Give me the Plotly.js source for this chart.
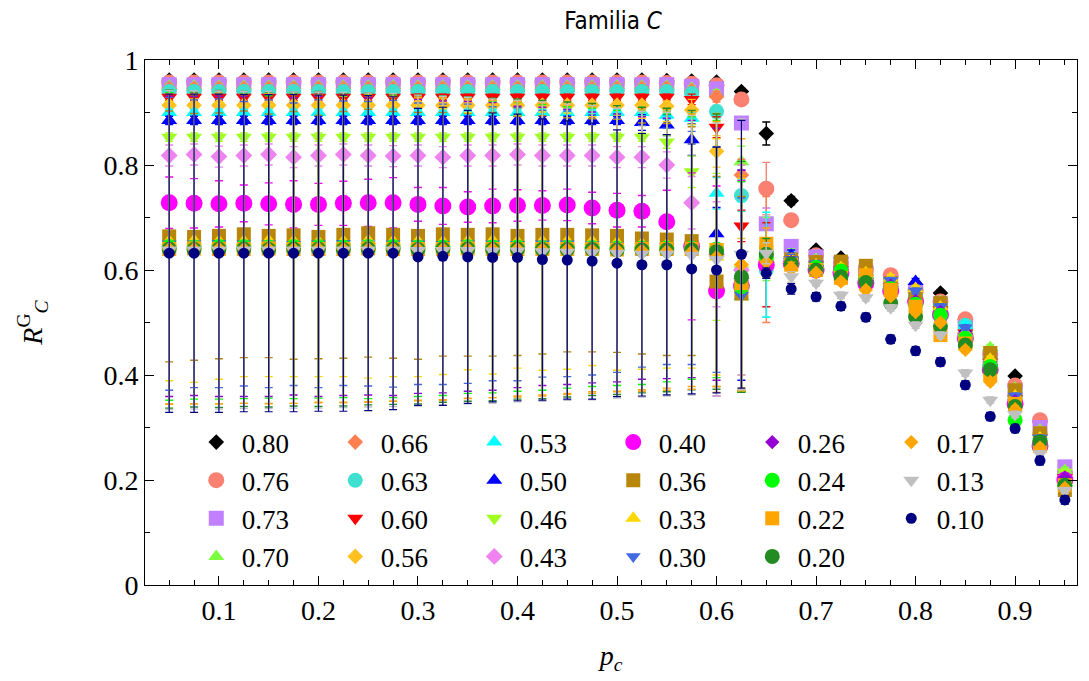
<!DOCTYPE html>
<html>
<head>
<meta charset="utf-8">
<script src="https://cdn.plot.ly/plotly-3.0.1.min.js"></script>
<style>html,body{margin:0;padding:0;background:#fff;}#chart{width:1089px;height:681px;}</style>
</head>
<body>
<div id="chart"></div>
<script>
// p_c values (x axis)
const pc = [0.05,0.075,0.1,0.125,0.15,0.175,0.2,0.225,0.25,0.275,0.3,0.325,0.35,0.375,0.4,0.425,0.45,0.475,0.5,0.525,0.55,0.575,0.6,0.625,0.65,0.675,0.7,0.725,0.75,0.775,0.8,0.825,0.85,0.875,0.9,0.925,0.95];

// series labels
const labels = ['0.80','0.76','0.73','0.70','0.66','0.63','0.60','0.56','0.53','0.50','0.46','0.43','0.40','0.36','0.33','0.30','0.26','0.24','0.22','0.20','0.17','0.13','0.10'];

// R_C^G values per series
const s080 = [0.962,0.962,0.962,0.962,0.962,0.962,0.962,0.962,0.962,0.962,0.962,0.962,0.962,0.962,0.962,0.962,0.962,0.962,0.962,0.962,0.961,0.960,0.958,0.940,0.860,0.732,0.638,0.623,0.604,0.586,0.572,0.556,0.500,0.447,0.398,0.310,0.215];
const s076 = [0.957,0.957,0.957,0.957,0.957,0.957,0.957,0.957,0.957,0.957,0.957,0.957,0.957,0.957,0.957,0.957,0.957,0.957,0.957,0.957,0.956,0.955,0.952,0.925,0.755,0.695,0.628,0.612,0.600,0.590,0.562,0.540,0.506,0.440,0.380,0.314,0.212];
const s073 = [0.953,0.953,0.953,0.953,0.953,0.953,0.953,0.953,0.953,0.953,0.953,0.953,0.953,0.953,0.953,0.953,0.953,0.953,0.953,0.953,0.953,0.950,0.945,0.880,0.688,0.645,0.625,0.612,0.596,0.575,0.558,0.535,0.490,0.432,0.370,0.300,0.225];
const s070 = [0.950,0.950,0.950,0.950,0.950,0.950,0.950,0.950,0.950,0.950,0.950,0.950,0.950,0.950,0.950,0.950,0.950,0.950,0.950,0.950,0.950,0.946,0.935,0.806,0.640,0.630,0.620,0.610,0.595,0.580,0.566,0.540,0.490,0.452,0.375,0.295,0.218];
const s066 = [0.946,0.946,0.946,0.946,0.946,0.946,0.946,0.946,0.946,0.946,0.946,0.946,0.946,0.946,0.946,0.946,0.946,0.946,0.946,0.946,0.946,0.942,0.930,0.781,0.620,0.625,0.615,0.604,0.590,0.574,0.560,0.530,0.490,0.430,0.365,0.290,0.205];
const s063 = [0.940,0.940,0.940,0.940,0.940,0.940,0.940,0.940,0.940,0.940,0.940,0.940,0.940,0.940,0.940,0.940,0.940,0.940,0.940,0.940,0.940,0.936,0.902,0.742,0.600,0.622,0.610,0.600,0.585,0.570,0.555,0.528,0.495,0.430,0.360,0.285,0.200];
const s060 = [0.929,0.929,0.929,0.929,0.929,0.929,0.929,0.929,0.929,0.929,0.929,0.929,0.929,0.929,0.929,0.929,0.929,0.929,0.929,0.929,0.929,0.925,0.872,0.684,0.610,0.620,0.610,0.600,0.585,0.568,0.550,0.525,0.480,0.425,0.355,0.280,0.205];
const s056 = [0.914,0.914,0.914,0.914,0.914,0.914,0.914,0.914,0.914,0.914,0.914,0.914,0.914,0.914,0.914,0.914,0.914,0.914,0.914,0.914,0.912,0.905,0.826,0.610,0.620,0.615,0.605,0.595,0.580,0.565,0.545,0.520,0.475,0.415,0.350,0.275,0.200];
const s053 = [0.900,0.900,0.900,0.900,0.900,0.900,0.900,0.900,0.900,0.900,0.900,0.900,0.900,0.900,0.900,0.900,0.900,0.900,0.900,0.900,0.895,0.889,0.746,0.550,0.610,0.625,0.610,0.600,0.585,0.566,0.555,0.520,0.495,0.420,0.355,0.285,0.205];
const s050 = [0.885,0.885,0.885,0.885,0.885,0.885,0.885,0.885,0.885,0.885,0.885,0.885,0.885,0.885,0.885,0.885,0.885,0.885,0.885,0.881,0.876,0.848,0.669,0.590,0.620,0.628,0.615,0.600,0.590,0.575,0.578,0.525,0.485,0.425,0.360,0.280,0.200];
const s046 = [0.853,0.853,0.853,0.853,0.853,0.853,0.853,0.853,0.853,0.853,0.853,0.853,0.853,0.853,0.853,0.853,0.853,0.853,0.853,0.853,0.844,0.787,0.644,0.600,0.615,0.620,0.605,0.595,0.580,0.565,0.550,0.520,0.475,0.448,0.350,0.270,0.215];
const s043 = [0.818,0.820,0.816,0.818,0.820,0.815,0.818,0.820,0.818,0.817,0.818,0.815,0.818,0.818,0.820,0.818,0.818,0.818,0.815,0.815,0.800,0.728,0.630,0.600,0.615,0.615,0.600,0.590,0.575,0.560,0.540,0.515,0.468,0.410,0.345,0.270,0.195];
const s040 = [0.728,0.727,0.726,0.727,0.726,0.725,0.725,0.727,0.728,0.728,0.725,0.722,0.720,0.722,0.723,0.723,0.724,0.718,0.714,0.712,0.692,0.645,0.560,0.570,0.610,0.612,0.600,0.595,0.575,0.560,0.540,0.515,0.470,0.410,0.345,0.265,0.200];
const s036 = [0.664,0.663,0.665,0.668,0.665,0.666,0.663,0.667,0.670,0.667,0.665,0.668,0.667,0.668,0.665,0.667,0.667,0.666,0.665,0.660,0.658,0.655,0.578,0.555,0.635,0.620,0.615,0.616,0.608,0.575,0.552,0.537,0.465,0.442,0.371,0.289,0.181];
const s033 = [0.655,0.656,0.655,0.655,0.656,0.655,0.654,0.655,0.656,0.655,0.655,0.654,0.655,0.656,0.654,0.655,0.655,0.655,0.652,0.650,0.648,0.645,0.625,0.575,0.625,0.620,0.610,0.605,0.595,0.585,0.565,0.530,0.480,0.430,0.360,0.280,0.200];
const s030 = [0.650,0.650,0.651,0.650,0.650,0.649,0.650,0.651,0.650,0.650,0.650,0.649,0.650,0.650,0.649,0.650,0.650,0.648,0.647,0.645,0.645,0.642,0.620,0.552,0.630,0.620,0.612,0.600,0.590,0.580,0.560,0.530,0.490,0.420,0.360,0.280,0.200];
const s026 = [0.645,0.646,0.645,0.645,0.646,0.645,0.645,0.646,0.645,0.645,0.645,0.644,0.645,0.645,0.644,0.645,0.644,0.643,0.642,0.642,0.641,0.640,0.630,0.580,0.628,0.615,0.605,0.595,0.585,0.570,0.541,0.520,0.460,0.415,0.350,0.275,0.205];
const s024 = [0.645,0.644,0.645,0.645,0.644,0.645,0.645,0.644,0.645,0.645,0.644,0.644,0.645,0.644,0.644,0.643,0.643,0.643,0.642,0.642,0.642,0.642,0.640,0.568,0.625,0.610,0.605,0.598,0.585,0.565,0.535,0.514,0.470,0.416,0.314,0.265,0.190];
const s022 = [0.640,0.641,0.640,0.640,0.641,0.640,0.640,0.640,0.641,0.640,0.640,0.640,0.641,0.640,0.640,0.640,0.640,0.640,0.639,0.640,0.640,0.640,0.638,0.575,0.650,0.610,0.600,0.585,0.590,0.562,0.530,0.476,0.460,0.400,0.345,0.265,0.190];
const s020 = [0.640,0.639,0.640,0.640,0.639,0.640,0.640,0.639,0.640,0.640,0.639,0.640,0.640,0.639,0.640,0.639,0.639,0.639,0.638,0.638,0.638,0.638,0.635,0.587,0.630,0.612,0.600,0.587,0.576,0.537,0.511,0.493,0.457,0.410,0.340,0.273,0.190];
const s017 = [0.640,0.640,0.641,0.640,0.640,0.640,0.641,0.640,0.640,0.640,0.640,0.640,0.640,0.640,0.640,0.639,0.639,0.638,0.638,0.637,0.636,0.635,0.625,0.610,0.615,0.605,0.595,0.578,0.562,0.550,0.520,0.500,0.448,0.387,0.335,0.262,0.185];
const s013 = [0.638,0.638,0.638,0.638,0.638,0.638,0.638,0.638,0.638,0.638,0.637,0.637,0.637,0.636,0.636,0.635,0.634,0.633,0.632,0.630,0.630,0.628,0.620,0.630,0.632,0.587,0.575,0.552,0.547,0.528,0.495,0.476,0.404,0.352,0.325,0.250,0.180];
const s010 = [0.632,0.632,0.632,0.632,0.632,0.632,0.632,0.632,0.632,0.632,0.625,0.626,0.625,0.624,0.624,0.620,0.619,0.617,0.613,0.610,0.610,0.602,0.600,0.630,0.594,0.564,0.549,0.531,0.510,0.468,0.446,0.425,0.381,0.321,0.298,0.237,0.162];

// error bars per series
const e080 = [0.004,0.004,0.004,0.004,0.004,0.004,0.004,0.004,0.004,0.004,0.004,0.004,0.004,0.004,0.004,0.004,0.004,0.004,0.004,0.004,0.004,0.004,0.005,0.006,0.022,0.008,0.005,0.005,0.005,0.005,0.005,0.005,0.005,0.005,0.005,0.005,0.005];
const e076 = [0.005,0.005,0.005,0.005,0.005,0.005,0.005,0.005,0.005,0.005,0.005,0.005,0.005,0.005,0.005,0.005,0.005,0.005,0.005,0.005,0.005,0.005,0.006,0.010,0.050,0.010,0.006,0.006,0.006,0.006,0.006,0.006,0.006,0.006,0.006,0.006,0.006];
const e073 = [0.005,0.005,0.005,0.005,0.005,0.005,0.005,0.005,0.005,0.005,0.005,0.005,0.005,0.005,0.005,0.005,0.005,0.005,0.005,0.005,0.005,0.005,0.006,0.012,0.030,0.010,0.006,0.006,0.006,0.006,0.006,0.006,0.006,0.006,0.006,0.006,0.006];
const e070 = [0.005,0.005,0.005,0.005,0.005,0.005,0.005,0.005,0.005,0.005,0.005,0.005,0.005,0.005,0.005,0.005,0.005,0.005,0.005,0.005,0.005,0.005,0.008,0.030,0.060,0.010,0.006,0.006,0.006,0.006,0.006,0.006,0.006,0.006,0.006,0.006,0.006];
const e066 = [0.005,0.005,0.005,0.005,0.005,0.005,0.005,0.005,0.005,0.005,0.005,0.005,0.005,0.005,0.005,0.005,0.005,0.005,0.005,0.005,0.005,0.005,0.010,0.030,0.120,0.010,0.006,0.006,0.006,0.006,0.006,0.006,0.006,0.006,0.006,0.006,0.006];
const e063 = [0.006,0.006,0.006,0.006,0.006,0.006,0.006,0.006,0.006,0.006,0.006,0.006,0.006,0.006,0.006,0.006,0.006,0.006,0.006,0.006,0.006,0.006,0.012,0.030,0.090,0.010,0.006,0.006,0.006,0.006,0.006,0.006,0.006,0.006,0.006,0.006,0.006];
const e060 = [0.006,0.006,0.006,0.006,0.006,0.006,0.006,0.006,0.006,0.006,0.006,0.006,0.006,0.006,0.006,0.006,0.006,0.006,0.006,0.006,0.006,0.010,0.020,0.030,0.080,0.010,0.006,0.006,0.006,0.006,0.006,0.006,0.006,0.006,0.006,0.006,0.006];
const e056 = [0.006,0.006,0.006,0.006,0.006,0.006,0.006,0.006,0.006,0.006,0.006,0.006,0.006,0.006,0.006,0.006,0.006,0.006,0.006,0.006,0.010,0.020,0.030,0.050,0.030,0.010,0.006,0.006,0.006,0.006,0.006,0.006,0.006,0.006,0.006,0.006,0.006];
const e053 = [0.006,0.006,0.006,0.006,0.006,0.006,0.006,0.006,0.006,0.006,0.006,0.006,0.006,0.006,0.006,0.006,0.006,0.006,0.006,0.006,0.008,0.012,0.030,0.180,0.100,0.010,0.006,0.006,0.006,0.006,0.006,0.006,0.006,0.006,0.006,0.006,0.006];
const e050 = [0.008,0.008,0.008,0.008,0.008,0.008,0.008,0.008,0.008,0.008,0.008,0.008,0.008,0.008,0.008,0.008,0.008,0.008,0.008,0.015,0.020,0.030,0.050,0.200,0.030,0.010,0.006,0.006,0.006,0.006,0.006,0.006,0.006,0.006,0.006,0.006,0.006];
const e046 = [0.008,0.008,0.008,0.008,0.008,0.008,0.008,0.008,0.008,0.008,0.008,0.008,0.008,0.008,0.008,0.008,0.008,0.008,0.008,0.008,0.012,0.030,0.140,0.200,0.030,0.010,0.006,0.006,0.006,0.006,0.006,0.006,0.006,0.006,0.006,0.006,0.006];
const e043 = [0.020,0.020,0.020,0.020,0.020,0.020,0.020,0.020,0.020,0.020,0.020,0.020,0.020,0.020,0.020,0.020,0.020,0.020,0.020,0.020,0.025,0.050,0.100,0.200,0.020,0.010,0.006,0.006,0.006,0.006,0.006,0.006,0.006,0.006,0.006,0.006,0.006];
const e040 = [0.049,0.047,0.044,0.035,0.040,0.045,0.040,0.042,0.045,0.048,0.032,0.035,0.029,0.032,0.030,0.028,0.030,0.030,0.032,0.030,0.060,0.140,0.200,0.200,0.020,0.010,0.006,0.006,0.006,0.006,0.006,0.006,0.006,0.006,0.006,0.006,0.006];
const e036 = [0.239,0.235,0.234,0.235,0.232,0.236,0.232,0.235,0.236,0.235,0.235,0.232,0.231,0.232,0.228,0.227,0.223,0.222,0.222,0.220,0.221,0.218,0.200,0.185,0.020,0.010,0.006,0.006,0.006,0.006,0.006,0.006,0.006,0.006,0.006,0.006,0.006];
const e033 = [0.266,0.270,0.263,0.258,0.259,0.258,0.257,0.258,0.262,0.258,0.258,0.253,0.245,0.254,0.241,0.246,0.244,0.237,0.243,0.239,0.235,0.232,0.225,0.200,0.020,0.010,0.006,0.006,0.006,0.006,0.006,0.006,0.006,0.006,0.006,0.006,0.006];
const e030 = [0.279,0.274,0.275,0.271,0.274,0.269,0.274,0.271,0.271,0.273,0.268,0.267,0.266,0.261,0.260,0.254,0.253,0.248,0.242,0.230,0.225,0.222,0.215,0.185,0.020,0.010,0.006,0.006,0.006,0.006,0.006,0.006,0.006,0.006,0.006,0.006,0.006];
const e026 = [0.286,0.285,0.286,0.286,0.287,0.283,0.286,0.285,0.283,0.284,0.280,0.278,0.276,0.274,0.268,0.265,0.262,0.258,0.255,0.250,0.248,0.245,0.240,0.210,0.020,0.010,0.006,0.006,0.006,0.006,0.006,0.006,0.006,0.006,0.006,0.006,0.006];
const e024 = [0.293,0.290,0.291,0.290,0.288,0.290,0.289,0.287,0.290,0.288,0.285,0.283,0.280,0.278,0.275,0.272,0.268,0.265,0.262,0.260,0.255,0.250,0.245,0.200,0.025,0.010,0.006,0.006,0.006,0.006,0.006,0.006,0.006,0.006,0.006,0.006,0.006];
const e022 = [0.295,0.296,0.295,0.294,0.295,0.294,0.293,0.292,0.292,0.290,0.288,0.287,0.285,0.283,0.280,0.278,0.275,0.272,0.270,0.268,0.265,0.262,0.260,0.205,0.030,0.010,0.006,0.006,0.006,0.006,0.006,0.006,0.006,0.006,0.006,0.006,0.006];
const e020 = [0.303,0.300,0.302,0.300,0.300,0.299,0.300,0.298,0.297,0.296,0.294,0.292,0.290,0.288,0.286,0.284,0.281,0.278,0.275,0.272,0.270,0.266,0.262,0.220,0.030,0.010,0.006,0.006,0.006,0.006,0.006,0.006,0.006,0.006,0.006,0.006,0.006];
const e017 = [0.296,0.295,0.296,0.294,0.295,0.294,0.293,0.293,0.292,0.290,0.289,0.288,0.285,0.283,0.282,0.279,0.276,0.273,0.270,0.268,0.265,0.262,0.258,0.240,0.030,0.010,0.006,0.006,0.006,0.006,0.006,0.006,0.006,0.006,0.006,0.006,0.006];
const e013 = [0.304,0.303,0.303,0.302,0.302,0.301,0.301,0.300,0.299,0.298,0.296,0.294,0.292,0.290,0.287,0.285,0.282,0.280,0.276,0.272,0.270,0.266,0.260,0.258,0.020,0.010,0.006,0.006,0.006,0.006,0.006,0.006,0.006,0.006,0.006,0.006,0.006];
const e010 = [0.303,0.303,0.303,0.302,0.302,0.302,0.301,0.301,0.300,0.298,0.283,0.284,0.279,0.275,0.273,0.268,0.265,0.263,0.254,0.250,0.248,0.238,0.234,0.255,0.010,0.010,0.008,0.008,0.008,0.008,0.008,0.008,0.008,0.008,0.008,0.008,0.008];

const values = [s080,s076,s073,s070,s066,s063,s060,s056,s053,s050,s046,s043,s040,s036,s033,s030,s026,s024,s022,s020,s017,s013,s010];
const errors = [e080,e076,e073,e070,e066,e063,e060,e056,e053,e050,e046,e043,e040,e036,e033,e030,e026,e024,e022,e020,e017,e013,e010];

// styles
const colors = ['#000000','#fa8072','#c080ff','#7cff40','#ff7f50','#40e0d0','#ff0000','#ffc020','#00ffff','#0000ff','#a0ff20','#ee82ee','#ff00ff','#b8860b','#ffd700','#4169e1','#9400d3','#00ff00','#ffa500','#228b22','#ffa500','#c0c0c0','#000080'];
const symbols = ['diamond','circle','square','triangle-up','diamond','circle','triangle-down','diamond','triangle-up','triangle-up','triangle-down','diamond','circle','square','triangle-up','triangle-down','diamond','circle','square','circle','diamond','triangle-down','circle'];
const sizes = [12,16,15,14,12,15,14,12,14,14,14,13,17,14,14,13,11,15,14,15,11,14,11];
// legend placement: row-major order of the 6-column legend
const legendOrder = ['0.80','0.66','0.53','0.40','0.26','0.17','0.76','0.63','0.50','0.36','0.24','0.13','0.73','0.60','0.46','0.33','0.22','0.10','0.70','0.56','0.43','0.30','0.20'];

const traces = labels.map((lab, k) => ({
  type: 'scatter',
  mode: 'markers',
  name: '\u2009' + lab,
  x: pc,
  y: values[k],
  legendrank: legendOrder.indexOf(lab) + 1,
  marker: {symbol: symbols[k], color: colors[k], size: sizes[k], line: {width: 0}},
  error_y: {type: 'data', array: errors[k], symmetric: true, color: colors[k], thickness: k === 22 ? 1.2 : 1.4, width: 4},
  cliponaxis: true
}));

const serif = "'Liberation Serif', 'Times New Roman', 'DejaVu Serif', serif";
const layout = {
  width: 1089, height: 681,
  margin: {l: 145, r: 12, t: 60, b: 96},
  paper_bgcolor: '#ffffff', plot_bgcolor: '#ffffff',
  showlegend: true,
  title: {text: 'Familia <i>C</i>', x: 0.563, xanchor: 'center', y: 0.970, yanchor: 'middle',
          font: {family: "'Liberation Sans Narrow', 'DejaVu Sans Condensed', 'Open Sans', sans-serif", size: 24, color: '#000'}},
  xaxis: {
    range: [0.0257, 0.9622], dtick: 0.1, tick0: 0,
    ticks: 'inside', ticklen: 9, tickwidth: 1, tickcolor: '#000',
    showline: true, linecolor: '#000', linewidth: 1, mirror: 'allticks',
    showgrid: false, zeroline: false,
    minor: {dtick: 0.025, ticks: 'inside', ticklen: 5, tickcolor: '#000', showgrid: false},
    tickfont: {family: serif, size: 28, color: '#000'},
    title: {text: '<i>p<sub>c</sub></i>', font: {family: serif, size: 28, color: '#000'}, standoff: 20}
  },
  yaxis: {
    range: [0, 1], dtick: 0.2, tick0: 0,
    ticks: 'inside', ticklen: 9, tickwidth: 1, tickcolor: '#000',
    showline: true, linecolor: '#000', linewidth: 1, mirror: 'allticks',
    showgrid: false, zeroline: false,
    minor: {dtick: 0.1, ticks: 'inside', ticklen: 5, tickcolor: '#000', showgrid: false},
    tickfont: {family: serif, size: 28, color: '#000'},
    title: {text: '<i>R</i><sup>G</sup><sub><i>C</i></sub>', font: {family: serif, size: 28, color: '#000'}, standoff: 52}
  },
  legend: {
    orientation: 'h', x: 0.055, xanchor: 'left', y: 0.318, yanchor: 'top',
    bgcolor: 'rgba(0,0,0,0)', borderwidth: 0,
    font: {family: serif, size: 27, color: '#000'},
    entrywidth: 94, entrywidthmode: 'pixels', itemsizing: 'trace', traceorder: 'normal'
  }
};

Plotly.newPlot('chart', traces, layout, {displayModeBar: false, staticPlot: true});
</script>
</body>
</html>
